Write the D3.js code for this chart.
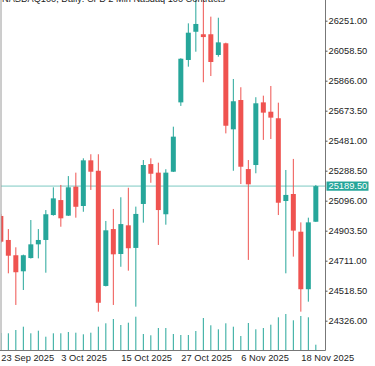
<!DOCTYPE html>
<html><head><meta charset="utf-8">
<script src="https://cdn.jsdelivr.net/npm/d3@7"></script>
<style>
html,body{margin:0;padding:0;background:#fff;}
svg{display:block;}
text{font-family:"Liberation Sans",Arial,sans-serif;}
</style></head><body>
<svg id="c" width="375" height="366"></svg>
<script>
const title = "NASDAQ100, Daily: CFD 2 Min Nasdaq 100 Contracts";
const dates = ["2025-09-23","2025-09-24","2025-09-25","2025-09-26","2025-09-29","2025-09-30",
  "2025-10-01","2025-10-02","2025-10-03","2025-10-06","2025-10-07","2025-10-08","2025-10-09","2025-10-10",
  "2025-10-13","2025-10-14","2025-10-15","2025-10-16","2025-10-17","2025-10-20","2025-10-21","2025-10-22",
  "2025-10-23","2025-10-24","2025-10-27","2025-10-28","2025-10-29","2025-10-30","2025-10-31",
  "2025-11-03","2025-11-04","2025-11-05","2025-11-06","2025-11-07","2025-11-10","2025-11-11","2025-11-12",
  "2025-11-13","2025-11-14","2025-11-17","2025-11-18","2025-11-19","2025-11-20"];
const open  = [24998,24844,24746,24643,24728,24816,24844,25004,25100,25000,25186,25062,25355,25288,
  24549,24914,24754,24938,24793,25075,25331,25276,25009,25282,25727,25999,26180,26164,26164,
  26031,26106,25554,25742,25299,25325,25727,25667,25625,25094,25139,24897,24528,24961];
const high  = [25011,24914,24797,24750,24972,24914,25036,25182,25197,25254,25276,25368,25394,25394,
  24966,25043,25118,25179,25058,25357,25368,25340,25298,25571,26010,26234,26400,26420,26277,
  26270,26110,25877,25824,25357,25760,25770,25832,25725,25293,25364,24957,24987,25197];
const low   = [24825,24630,24427,24523,24725,24726,24634,25000,24929,24998,24987,25025,25165,24384,
  24546,24427,24672,24647,24416,24955,25211,24812,24942,25280,25704,25956,26052,25856,25896,
  26020,25528,25288,25203,24716,25272,25486,25492,25004,24630,24737,24384,24448,24960];
const close = [24833,24743,24637,24746,24816,24844,25009,25111,24983,25182,25057,25355,25282,24441,
  24906,24752,24946,24791,25011,25325,25269,25036,25276,25507,26007,26174,26230,26146,25986,
  26112,25577,25734,25314,25201,25721,25661,25629,25083,25133,24904,24528,24957,25189.5];
const volume = [170,167,200,233,167,193,133,167,167,180,173,157,173,233,
  267,310,250,273,333,160,147,220,220,160,150,150,190,320,247,
  207,267,233,140,270,207,220,253,327,360,297,340,327,53];
const priceTicks = [26251,26058.5,25866,25673.5,25481,25288.5,25096,24903.5,24711,24518.5,24326];
const dateTickDates = ["2025-09-23","2025-10-03","2025-10-15","2025-10-27","2025-11-06","2025-11-18"];
const dateTickLabels = ["23 Sep 2025","3 Oct 2025","15 Oct 2025","27 Oct 2025","6 Nov 2025","18 Nov 2025"];
const lastPrice = 25189.5;

const UP = "#26a69a", DOWN = "#ef5350";
const svg = d3.select("#c");
const plotR = 325.5, plotB = 350;

const x = d3.scalePoint().domain(dates).range([0.83, 315.83]);
const y = d3.scaleLinear().domain([24326, 26251]).range([320.7, 20.7]);
const v = d3.scaleLinear().domain([0, 360]).range([plotB, 314]);

svg.append("defs").append("clipPath").attr("id","clip")
  .append("rect").attr("x",1).attr("y",0).attr("width",plotR-1).attr("height",plotB);

const data = dates.map((d,i)=>({d, o:open[i], h:high[i], l:low[i], c:close[i], v:volume[i]}));
const g = svg.append("g").attr("clip-path","url(#clip)");

// last price line
g.append("line").attr("x1",0).attr("x2",plotR).attr("y1",y(lastPrice)).attr("y2",y(lastPrice))
  .attr("stroke","#b4e0dc").attr("stroke-width",1.6);

// volumes
g.selectAll("line.vol").data(data).join("line").attr("class","vol")
  .attr("x1",d=>x(d.d)).attr("x2",d=>x(d.d)).attr("y1",plotB).attr("y2",d=>v(d.v))
  .attr("stroke",UP).attr("stroke-width",1);

// wicks
g.selectAll("line.wick").data(data).join("line").attr("class","wick")
  .attr("x1",d=>x(d.d)).attr("x2",d=>x(d.d)).attr("y1",d=>y(d.h)).attr("y2",d=>y(d.l))
  .attr("stroke",d=>d.c>=d.o?UP:DOWN).attr("stroke-width",1);

// bodies
g.selectAll("rect.body").data(data).join("rect").attr("class","body")
  .attr("x",d=>x(d.d)-2.5).attr("width",5)
  .attr("y",d=>y(Math.max(d.o,d.c)))
  .attr("height",d=>Math.max(1.5, Math.abs(y(d.o)-y(d.c))))
  .attr("fill",d=>d.c>=d.o?UP:DOWN);

// borders
svg.append("line").attr("x1",1).attr("x2",1).attr("y1",0).attr("y2",plotB).attr("stroke","#9a9a9a");
svg.append("line").attr("x1",plotR).attr("x2",plotR).attr("y1",0).attr("y2",plotB+0.5).attr("stroke","#777");
svg.append("line").attr("x1",0).attr("x2",plotR).attr("y1",plotB+0.5).attr("y2",plotB+0.5).attr("stroke","#777");

// right axis
const ya = svg.append("g").attr("transform",`translate(${plotR},0)`)
  .call(d3.axisRight(y).tickValues(priceTicks).tickSize(2).tickPadding(1).tickFormat(d3.format(".2f")));
ya.select(".domain").remove();
ya.selectAll("line").attr("stroke","#555");
ya.selectAll("text").attr("font-size",9.3).attr("fill","#222").attr("font-family","Liberation Sans, Arial, sans-serif");

// bottom axis
const labelMap = new Map(dateTickDates.map((d,i)=>[d,dateTickLabels[i]]));
const xa = svg.append("g").attr("transform",`translate(0,${plotB})`)
  .call(d3.axisBottom(x).tickValues(dateTickDates).tickSize(0).tickPadding(4).tickFormat(d=>labelMap.get(d)));
xa.select(".domain").remove();
xa.selectAll("text").attr("text-anchor","start").attr("font-size",9.3).attr("fill","#222")
  .attr("font-family","Liberation Sans, Arial, sans-serif").attr("dy","0.71em");

// last price label
const lp = svg.append("g");
lp.append("rect").attr("x",plotR+1).attr("y",y(lastPrice)-4.6).attr("width",42).attr("height",9.2).attr("fill",UP);
lp.append("text").attr("x",plotR+3).attr("y",y(lastPrice)).attr("dy","0.35em").attr("font-size",9.3)
  .attr("fill","#fff").text(d3.format(".2f")(lastPrice));

// title (cut at top)
svg.append("text").attr("x",2).attr("y",2.2).attr("font-size",9).attr("fill","#222")
  .attr("textLength",223).attr("lengthAdjust","spacingAndGlyphs").text(title);
</script>
</body></html>
